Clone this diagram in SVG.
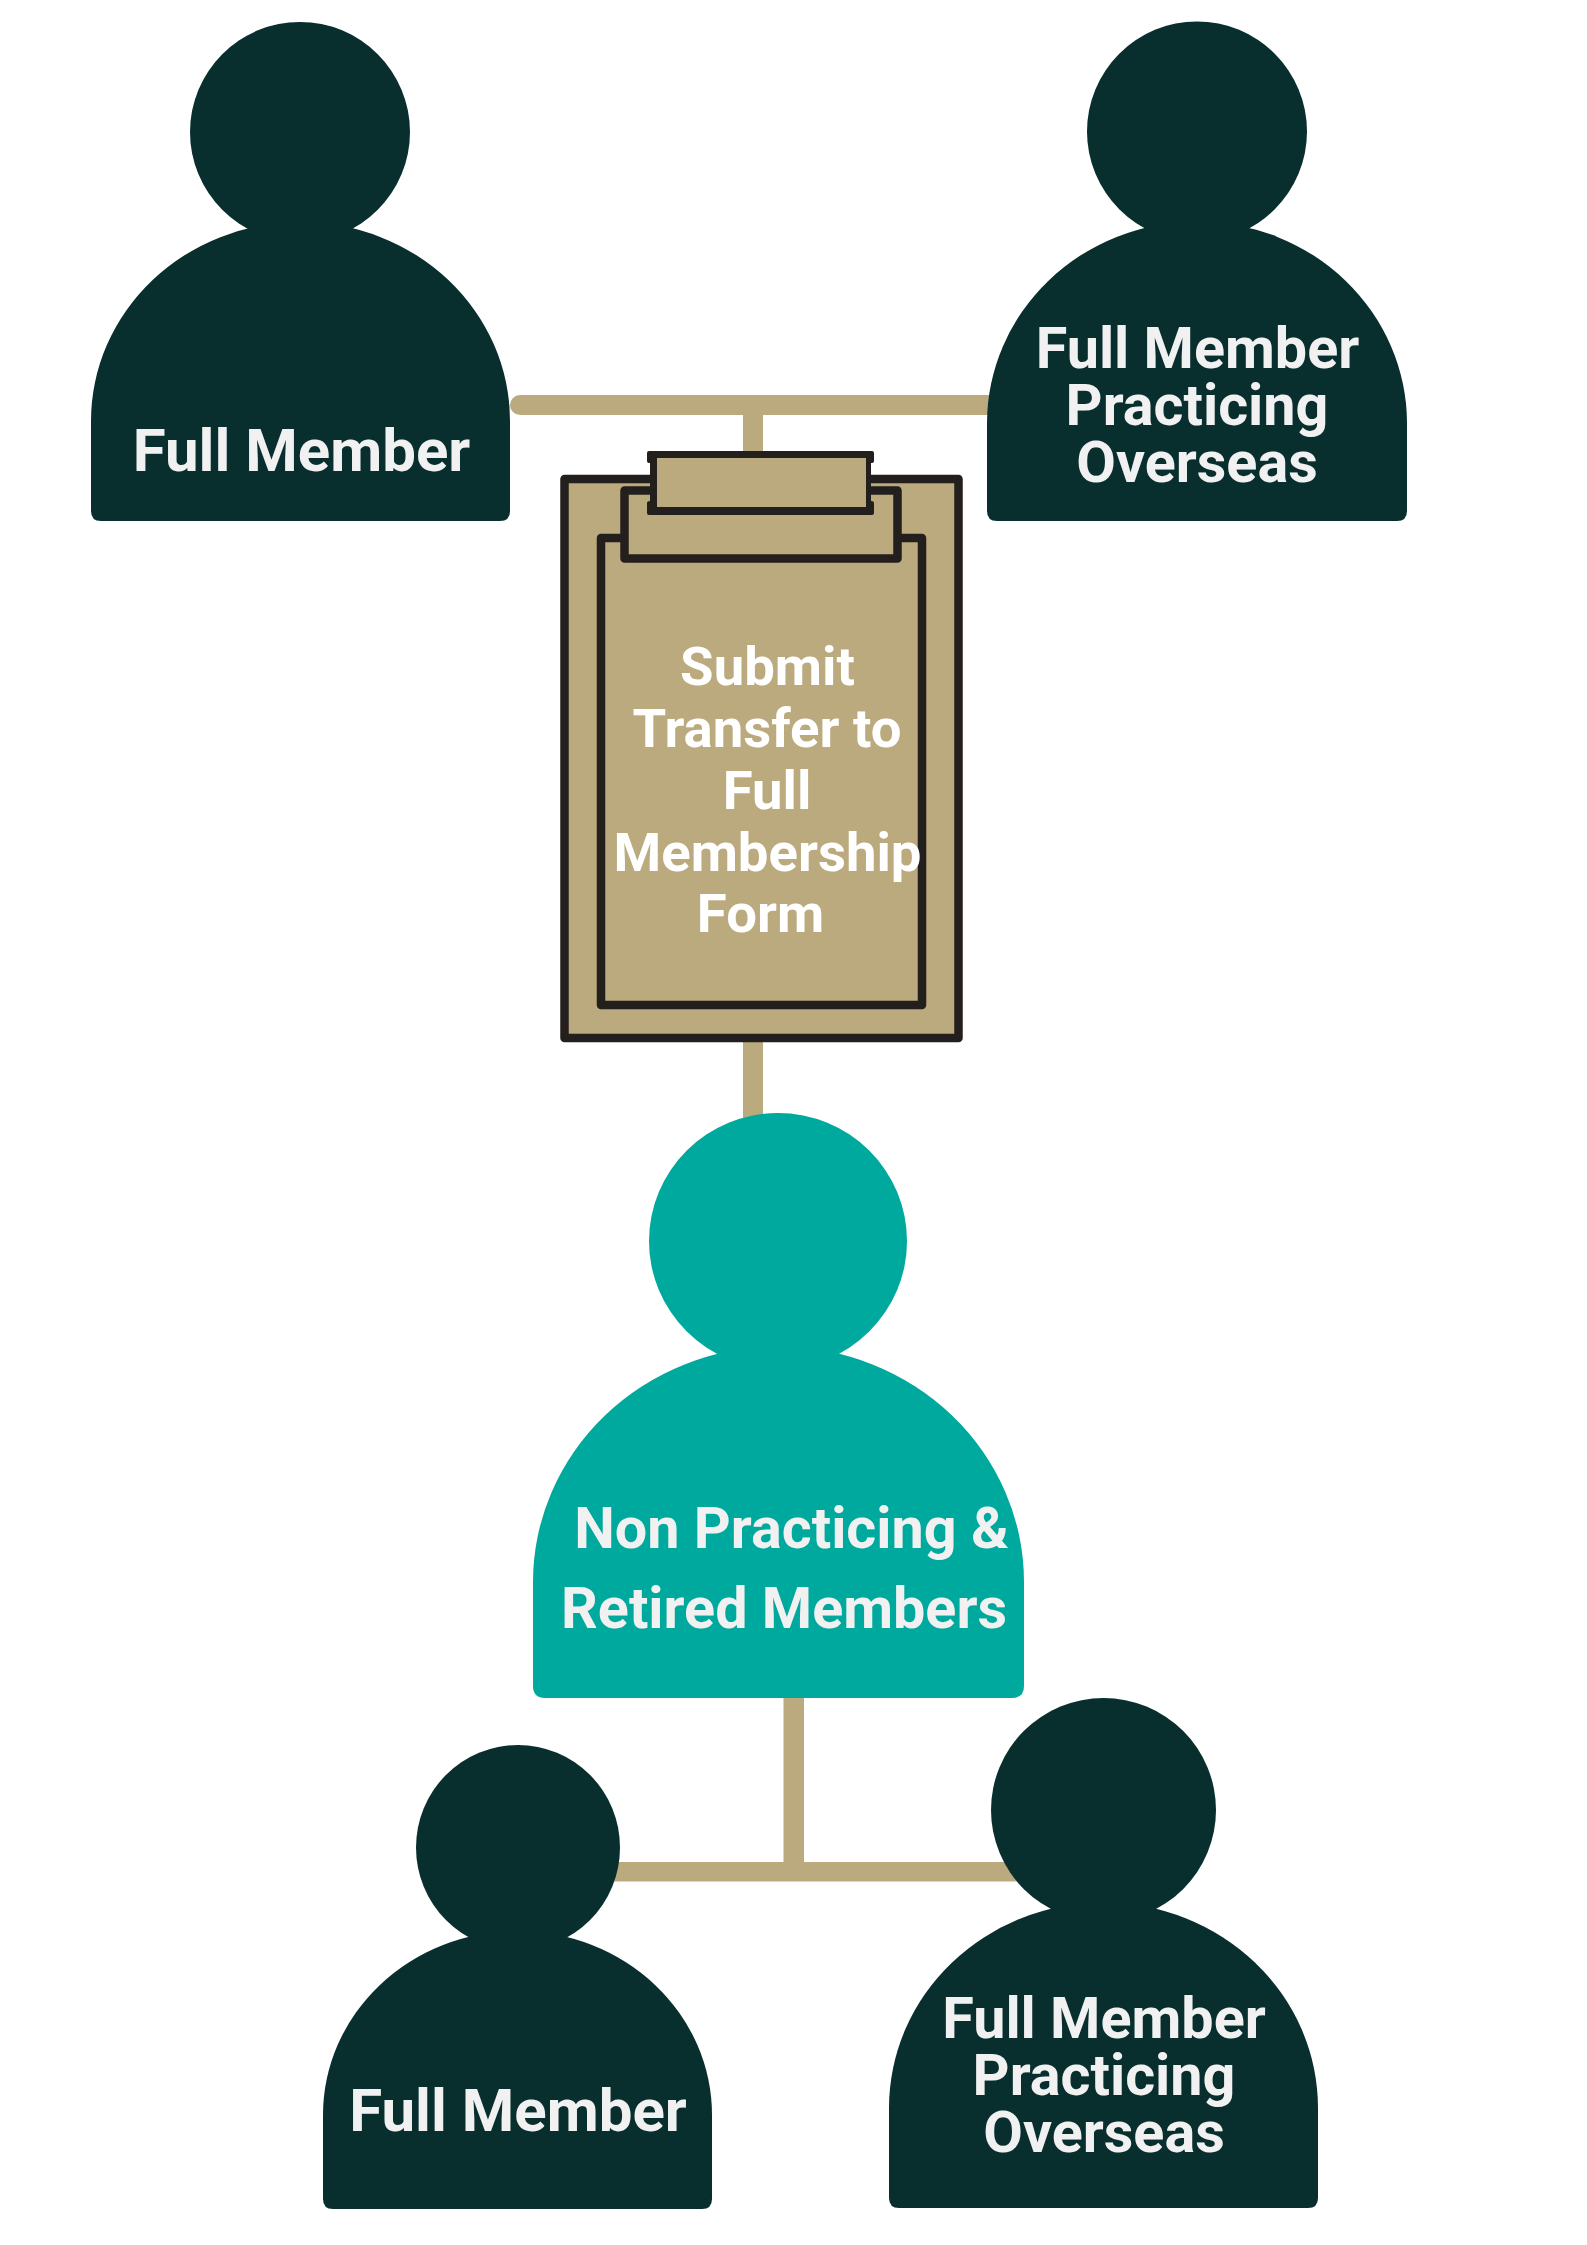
<svg xmlns="http://www.w3.org/2000/svg" width="1587" height="2245" viewBox="0 0 1587 2245">
<style>
.dark{fill:#092e2e}
.teal{fill:#00a99d}
.conn{fill:#bbaa7e}
.board{fill:#bbaa7e;stroke:#231f1c;stroke-width:8.5;stroke-linejoin:round}
text{font-family:Roboto,"Liberation Sans",sans-serif;font-weight:700;font-size:57.500px;fill:#f1f1f1;text-anchor:middle}
.big{font-size:60px}
.w{fill:#ffffff;font-size:54.500px}
</style>
<rect width="1587" height="2245" fill="#ffffff"/>
<g id="connectors">
<rect class="conn" x="510" y="395" width="490" height="20" rx="10"/>
<rect class="conn" x="743" y="415" width="20" height="40"/>
<rect class="conn" x="743" y="1035" width="20" height="85" rx="3"/>
<rect class="conn" x="783.500" y="1695" width="20.500" height="170"/>
<rect class="conn" x="600" y="1862" width="430" height="19.500"/>
</g>
<g id="member-top-left">
<path class="dark" d="M91 421A209.500 199 0 0 1 510 421V511Q510 521 500 521H101Q91 521 91 511Z"/>
<ellipse class="dark" cx="300" cy="132" rx="110" ry="110"/>
<text class="big" x="301.500" y="471">Full Member</text>
</g>
<g id="member-top-right">
<path class="dark" d="M987 423.500A210 202 0 0 1 1407 423.500V511Q1407 521 1397 521H997Q987 521 987 511Z"/>
<ellipse class="dark" cx="1197" cy="131.500" rx="110" ry="110"/>
<text x="1197.500" y="368">Full Member</text>
<text x="1197" y="424.500">Practicing</text>
<text x="1197" y="481.500">Overseas</text>
</g>
<g id="form">
<rect class="board" x="564.500" y="479" width="394" height="559"/>
<rect class="board" x="601" y="538" width="321" height="467"/>
<rect class="board" x="624.500" y="490.500" width="273" height="68"/>
<path fill="#231f1c" d="M649 451H872Q874 451 874 453V461Q874 463 871 463V501Q874 501 874 503V513Q874 515 872 515H649Q647 515 647 513V503Q647 501 650 501V463Q647 463 647 461V453Q647 451 649 451Z"/>
<rect fill="#bbaa7e" x="657" y="458" width="209" height="49"/>
<text class="w" x="767.500" y="685">Submit</text>
<text class="w" x="767" y="746.500">Transfer to</text>
<text class="w" x="767" y="809">Full</text>
<text class="w" x="767.500" y="870.500">Membership</text>
<text class="w" x="760.500" y="931.500">Form</text>
</g>
<g id="member-center">
<path class="teal" d="M533 1582A245.500 235.500 0 0 1 1024 1582V1686Q1024 1698 1012 1698H545Q533 1698 533 1686Z"/>
<ellipse class="teal" cx="778" cy="1241" rx="129" ry="128"/>
<text x="791.500" y="1548">Non Practicing &amp;</text>
<text x="784" y="1628">Retired Members</text>
</g>
<g id="member-bottom-left">
<path class="dark" d="M323 2115A194.500 184 0 0 1 712 2115V2199Q712 2209 702 2209H333Q323 2209 323 2199Z"/>
<ellipse class="dark" cx="518" cy="1847.500" rx="102" ry="102.500"/>
<text class="big" x="518" y="2131">Full Member</text>
</g>
<g id="member-bottom-right">
<path class="dark" d="M889 2108A214.500 205.500 0 0 1 1318 2108V2198Q1318 2208 1308 2208H899Q889 2208 889 2198Z"/>
<ellipse class="dark" cx="1103.500" cy="1810" rx="112.500" ry="112"/>
<text x="1104" y="2037.500">Full Member</text>
<text x="1104" y="2094.500">Practicing</text>
<text x="1104" y="2151.500">Overseas</text>
</g>
</svg>
